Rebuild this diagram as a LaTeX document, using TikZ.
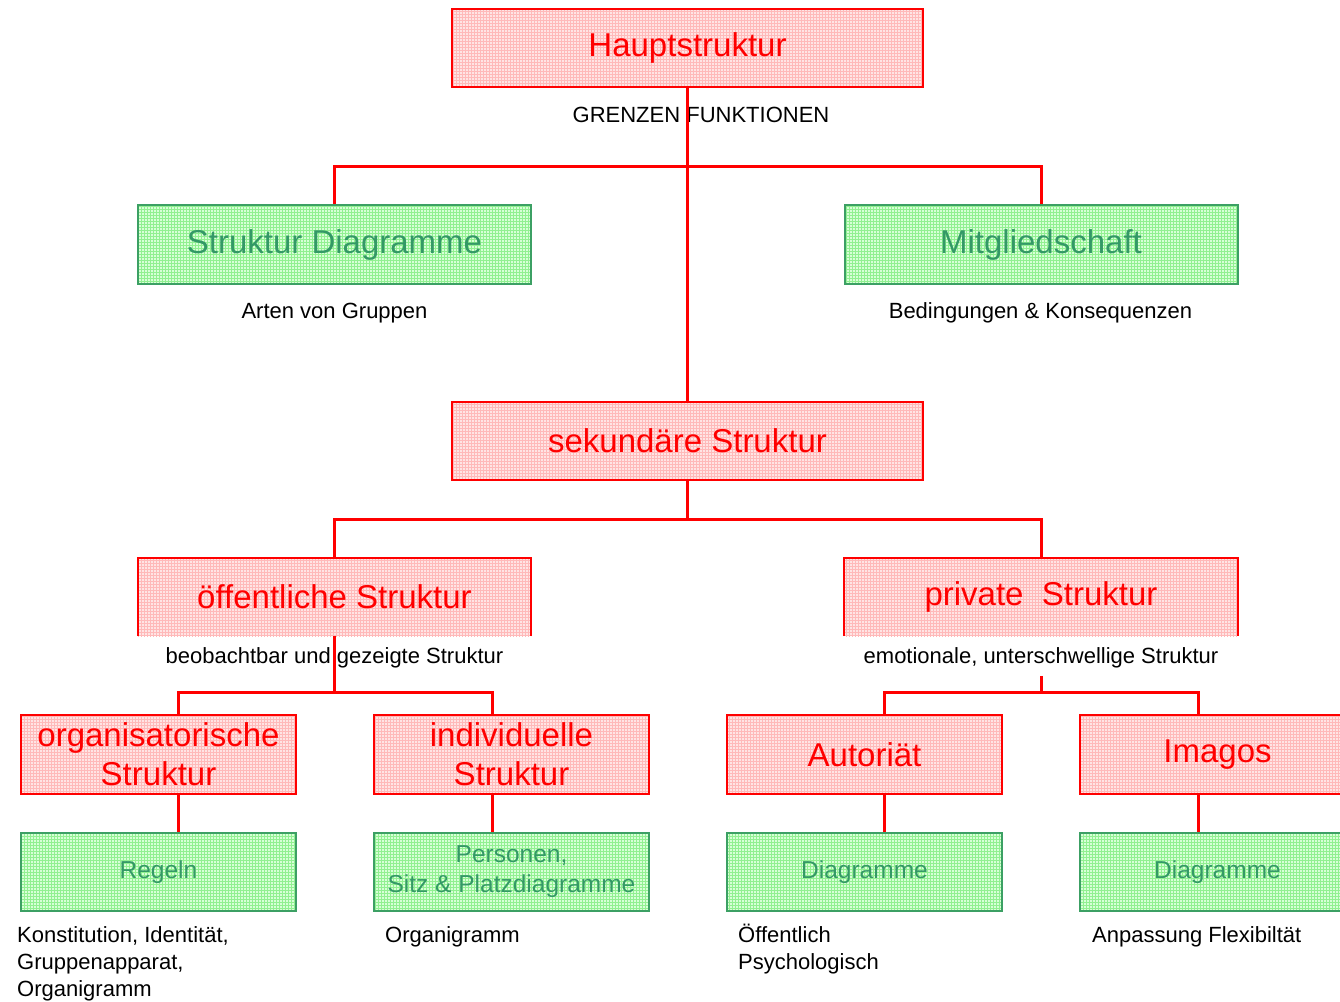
\documentclass[tikz,border=0pt]{standalone}
\usepackage{fontspec}
\setmainfont{Liberation Sans}
\usetikzlibrary{patterns}
\definecolor{pinkfill}{RGB}{255,228,228}
\definecolor{pinkline}{RGB}{255,185,185}
\definecolor{greenfill}{RGB}{215,255,215}
\definecolor{greenline}{RGB}{145,240,145}
\definecolor{gtext}{RGB}{51,153,102}
\definecolor{gborder}{RGB}{60,160,100}
\tikzset{
  redbox/.style={draw=red, line width=2pt, preaction={fill=pinkfill}, pattern=grid, pattern color=pinkline,
    text=red, inner sep=0pt, align=center, font=\fontsize{33}{39}\selectfont},
  openbox/.style={draw=none, preaction={fill=pinkfill}, pattern=grid, pattern color=pinkline,
    text=red, inner sep=0pt, align=center, font=\fontsize{33}{39}\selectfont},
  greenbox/.style={draw=gborder, line width=2pt, preaction={fill=greenfill}, pattern=grid, pattern color=greenline,
    text=gtext, inner sep=0pt, align=center, font=\fontsize{33}{39}\selectfont},
  smallgreen/.style={greenbox, font=\fontsize{24.5}{30}\selectfont},
  wide/.style={minimum width=471pt, minimum height=78pt},
  mid/.style={minimum width=393pt, minimum height=79pt},
  narrow/.style={minimum width=275pt, minimum height=79pt},
  lbl/.style={inner sep=0pt, font=\fontsize{22}{27}\selectfont, text=black},
  conn/.style={draw=red, line width=3pt},
  edge3/.style={draw=red, line width=2pt, line join=miter},
}
\begin{document}
\begin{tikzpicture}[x=1pt,y=-1pt]
\fill[white] (0,0) rectangle (1340,1001);
\useasboundingbox (0,0) rectangle (1340,1001);

% boxes
\node[redbox, wide] (haupt) at (687.5,48) {Hauptstruktur};
\node[greenbox, mid] (sdiag) at (334.5,244.5) {Struktur Diagramme};
\node[greenbox, mid] (mitglied) at (1041,244.5) {Mitgliedschaft};
\node[redbox, wide] (sek) at (687.5,440.5) {sekundäre Struktur};
\node[openbox, mid, minimum height=78pt] (oeff) at (334.5,597) {öffentliche Struktur};
\node[openbox, mid, minimum height=78pt] (priv) at (1041,597) {private~~Struktur};
\draw[edge3] (oeff.south west) -- (oeff.north west) -- (oeff.north east) -- (oeff.south east);
\draw[edge3] (priv.south west) -- (priv.north west) -- (priv.north east) -- (priv.south east);

\node[redbox, narrow] (org) at (158.5,754.5) {organisatorische\\Struktur};
\node[redbox, narrow] (indiv) at (511.5,754.5) {individuelle\\Struktur};
\node[redbox, narrow] (aut) at (864.5,754.5) {Autoriät};
\node[redbox, narrow] (imagos) at (1217.5,754.5) {Imagos};

\node[smallgreen, narrow, minimum height=78pt] (regeln) at (158.5,872) {Regeln};
\node[smallgreen, narrow, minimum height=78pt] (pers) at (511.5,872) {Personen,\\Sitz \& Platzdiagramme};
\node[smallgreen, narrow, minimum height=78pt] (diag1) at (864.5,872) {Diagramme};
\node[smallgreen, narrow, minimum height=78pt] (diag2) at (1217.5,872) {Diagramme};

% labels
\node[lbl, anchor=base] (grenzen) at (701,122) {GRENZEN FUNKTIONEN};
\node[lbl, anchor=base] (arten) at (334.5,318) {Arten von Gruppen};
\node[lbl, anchor=base] (beding) at (1040.5,318) {Bedingungen \& Konsequenzen};
\node[lbl, anchor=base] (beob) at (334.5,663) {beobachtbar und gezeigte Struktur};
\node[lbl, anchor=base, fill=white] (emo) at (1041,663) {emotionale, unterschwellige Struktur};
\node[lbl, anchor=base west, align=left] (konst) at (17,996) {Konstitution, Identität,\\Gruppenapparat,\\Organigramm};
\node[lbl, anchor=base west] (orgm) at (385,942) {Organigramm};
\node[lbl, anchor=base west, align=left] (oeffl) at (738,969) {Öffentlich\\Psychologisch};
\node[lbl, anchor=base west] (anp) at (1092,942) {Anpassung Flexibiltät};

% junctions
\coordinate (j0) at (687.5,166);
\coordinate (j1) at (687.5,519);
\coordinate (j2) at (334.5,692);
\coordinate (j3) at (1041,692);

% connectors
\draw[conn] (haupt.south) -- (sek.north);
\draw[conn] (sdiag.north) |- (j0) -| (mitglied.north);
\draw[conn] (sek.south) -- (j1);
\draw[conn] (oeff.north) |- (j1) -| (priv.north);
\draw[conn] (oeff.south) -- (j2);
\draw[conn] ([yshift=-8pt]emo.south) -- (j3);
\draw[conn] ([xshift=19.5pt]org.north) |- (j2) -| ([xshift=-19.5pt]indiv.north);
\draw[conn] ([xshift=19.5pt]aut.north) |- (j3) -| ([xshift=-19.5pt]imagos.north);
\draw[conn] ([xshift=19.5pt]org.south) -- ([xshift=19.5pt]regeln.north);
\draw[conn] ([xshift=-19.5pt]indiv.south) -- ([xshift=-19.5pt]pers.north);
\draw[conn] ([xshift=19.5pt]aut.south) -- ([xshift=19.5pt]diag1.north);
\draw[conn] ([xshift=-19.5pt]imagos.south) -- ([xshift=-19.5pt]diag2.north);
\end{tikzpicture}
\end{document}
